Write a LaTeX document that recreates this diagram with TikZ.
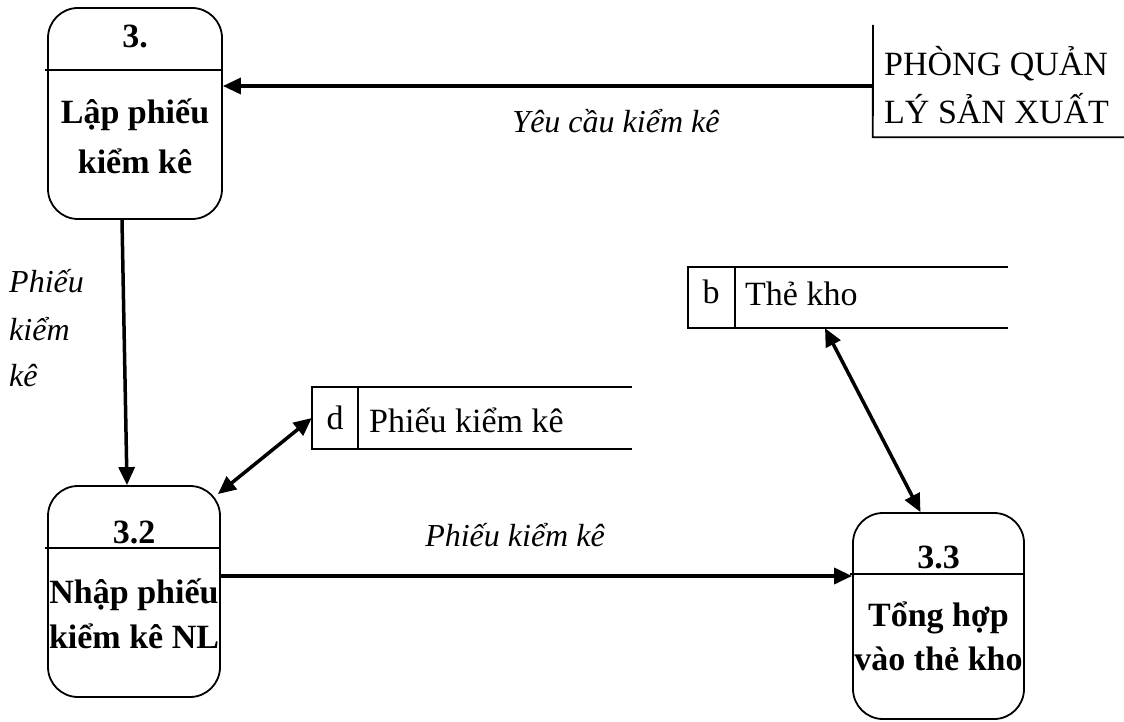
\documentclass[tikz,border=0pt]{standalone}
\usepackage{fontspec}
\setmainfont{Liberation Serif}
\usetikzlibrary{arrows.meta}
\begin{document}
\begin{tikzpicture}[x=1pt,y=-1pt,
  proc/.style={draw,line width=1.8pt,rounded corners=30pt,inner sep=0pt},
  hidden/.style={inner sep=0pt,minimum width=0pt},
  btxt/.style={anchor=base,inner sep=0pt,font=\fontsize{34}{40}\selectfont\bfseries},
  rtxt/.style={anchor=base west,inner sep=0pt,font=\fontsize{34}{40}\selectfont},
  itxt/.style={anchor=base,inner sep=0pt,font=\fontsize{32}{38}\selectfont\itshape},
  edge/.style={line width=1.8pt},
  flow/.style={line width=3.5pt,-{Triangle[length=18pt,width=16pt]}},
  bflow/.style={line width=3.5pt,{Triangle[length=18pt,width=16pt]}-{Triangle[length=18pt,width=16pt]}}]
\useasboundingbox (0,0) rectangle (1124,722);

% processes
\node[proc,minimum width=174pt,minimum height=211pt] (p1) at (135,113.5) {};
\node[proc,minimum width=172pt,minimum height=211pt] (p2) at (134,591.5) {};
\node[proc,minimum width=171pt,minimum height=206pt] (p3) at (938.5,616) {};
\draw[edge] (45,70) -- (222,70);
\draw[edge] (45,548) -- (220,548);
\draw[edge] (850,574) -- (1024,574);

\node[btxt] (t1a) at (135,48) {3.};
\node[btxt] (t1b) at (135,124) {Lập phiếu};
\node[btxt] (t1c) at (135,174) {kiểm kê};
\node[btxt] (t2a) at (134,543) {3.2};
\node[btxt] (t2b) at (134,603) {Nhập phiếu};
\node[btxt] (t2c) at (134,648) {kiểm kê NL};
\node[btxt] (t3a) at (938.5,568) {3.3};
\node[btxt] (t3b) at (938.5,626) {Tổng hợp};
\node[btxt] (t3c) at (938.5,670) {vào thẻ kho};

% external entity, cut by the page edge
\node[hidden,minimum width=260pt,minimum height=102pt] (pq) at (1003,86) {};
\draw[edge] (873,25) -- (pq.south west) -- (pq.south east);
\node[rtxt] (pq1) at (884,76) {PHÒNG QUẢN};
\node[rtxt] (pq2) at (884,124) {LÝ SẢN XUẤT};

% data stores
\node[hidden,minimum width=320pt,minimum height=62pt] (d) at (472,418) {};
\draw[edge] (d.north east) -- (d.north west) -- (d.south west) -- (d.south east);
\draw[edge] (358,387) -- (358,449);
\node[rtxt,anchor=base] (dk) at (335,429) {d};
\node[rtxt] (dn) at (369,432) {Phiếu kiểm kê};

\node[hidden,minimum width=320pt,minimum height=61pt] (b) at (848,297.5) {};
\draw[edge] (b.north east) -- (b.north west) -- (b.south west) -- (b.south east);
\draw[edge] (735,267) -- (735,328);
\node[rtxt,anchor=base] (bk) at (711,303) {b};
\node[rtxt] (bn) at (745,305) {Thẻ kho};

% flows
\draw[flow] (pq.west) -- (p1.east |- pq.west);
\node[itxt] (l1) at (616,133) {Yêu cầu kiểm kê};

\draw[flow] ([xshift=-13pt]p1.south) -- ([xshift=-7pt]p2.north);
\node[itxt,anchor=base west] (l2a) at (9,292) {Phiếu};
\node[itxt,anchor=base west] (l2b) at (9,340) {kiểm};
\node[itxt,anchor=base west] (l2c) at (9,386) {kê};

\draw[bflow] ([shift={(-3,9)}]p2.north east) -- (d.west);
\draw[bflow] ([xshift=-23pt]b.south) -- ([xshift=-18pt]p3.north);

\coordinate (f) at ([yshift=15.5pt]p2.east);
\draw[flow] (f) -- (f -| p3.west);
\node[itxt] (l3) at (515,546) {Phiếu kiểm kê};
\end{tikzpicture}
\end{document}
